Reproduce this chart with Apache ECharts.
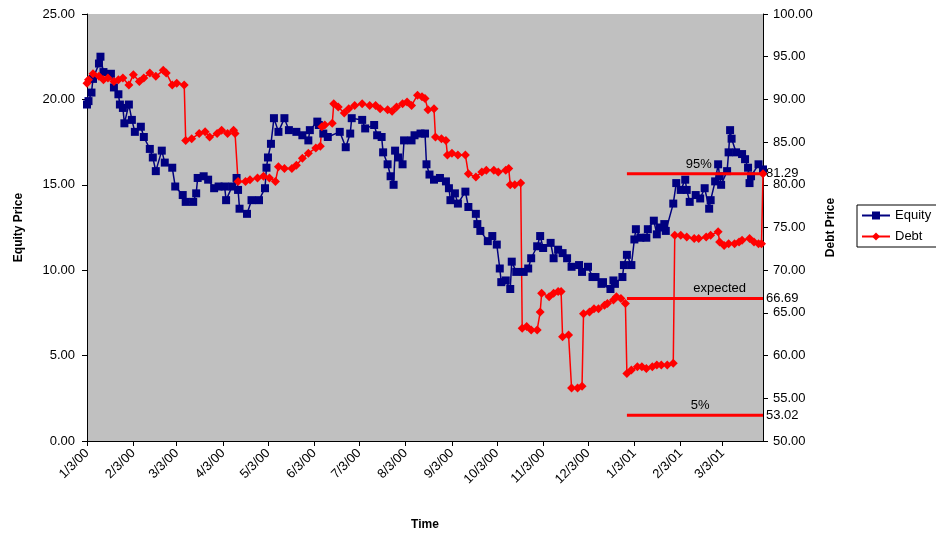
<!DOCTYPE html>
<html>
<head>
<meta charset="utf-8">
<title>Equity and Debt Price</title>
<script src="https://cdn.jsdelivr.net/npm/echarts@6/dist/echarts.min.js"></script>
<style>
    html, body { margin: 0; padding: 0; background: #fff; }
    #chart { width: 936px; height: 533px; }
</style>
</head>
<body>
<div id="chart"></div>
<script>
// day offsets counted from 1/3/00
var equityDays = [0, 1, 3, 4, 8, 9, 11, 16, 18, 21, 22, 24, 25, 28, 30, 32, 36, 38, 42, 44, 46, 50, 52, 57, 59, 64, 66, 71, 73, 74,
    78, 81, 85, 88, 92, 93, 97, 100, 101, 102, 107, 110, 115, 119, 120, 121, 123, 125, 128, 132, 135, 140, 144, 148, 149, 154, 155, 158, 161, 169,
    173, 176, 177, 184, 186, 192, 194, 197, 198, 201, 203, 205, 206, 208, 211, 212, 217, 219, 223, 226, 227, 229, 232, 236, 240, 242, 243, 246, 248, 253,
    255, 260, 261, 263, 268, 271, 274, 276, 277, 280, 283, 284, 287, 292, 295, 297, 301, 303, 305, 310, 312, 315, 318, 321, 324, 329, 331, 335, 338, 340,
    344, 345, 350, 352, 353, 358, 359, 361, 364, 366, 367, 370, 374, 375, 379, 381, 383, 386, 387, 392, 394, 397, 400, 401, 403, 407, 410, 413, 416, 417,
    420, 422, 423, 424, 428, 429, 430, 431, 434, 438, 440, 442, 443, 444, 449, 452];
var equityPrice = [19.7, 19.9, 20.4, 21.2, 22.1, 22.5, 21.6, 21.5, 20.7, 20.3, 19.7, 19.5, 18.6, 19.7, 18.8, 18.1, 18.4, 17.8, 17.1, 16.6, 15.8, 17.0, 16.3, 16.0, 14.9, 14.4, 14.0, 14.0, 14.5, 15.4,
    15.5, 15.3, 14.8, 14.9, 14.9, 14.1, 14.9, 15.4, 14.7, 13.6, 13.3, 14.1, 14.1, 14.8, 16.0, 16.6, 17.4, 18.9, 18.1, 18.9, 18.2, 18.1, 17.9, 17.6, 18.2, 18.7, 18.5, 18.0, 17.8, 18.1,
    17.2, 18.0, 18.9, 18.8, 18.3, 18.5, 17.9, 17.8, 16.9, 16.2, 15.5, 15.0, 17.0, 16.6, 16.2, 17.6, 17.6, 17.9, 18.0, 18.0, 16.2, 15.6, 15.3, 15.4, 15.2, 14.8, 14.1, 14.5, 13.9, 14.6,
    13.7, 13.3, 12.7, 12.3, 11.7, 12.0, 11.5, 10.1, 9.3, 9.4, 8.9, 10.5, 9.9, 9.9, 10.1, 10.7, 11.4, 12.0, 11.3, 11.6, 10.7, 11.2, 11.0, 10.7, 10.2, 10.3, 9.9, 10.2, 9.6, 9.6,
    9.2, 9.3, 8.9, 9.4, 9.2, 9.6, 10.3, 10.9, 10.3, 11.8, 12.4, 11.9, 11.9, 12.4, 12.9, 12.1, 12.5, 12.7, 12.3, 13.9, 15.1, 14.7, 15.3, 14.7, 14.0, 14.4, 14.2, 14.8, 13.6, 14.1,
    15.2, 16.2, 15.5, 15.0, 15.8, 16.9, 18.2, 17.7, 16.9, 16.8, 16.5, 16.0, 15.1, 15.5, 16.2, 15.9];

var debtDays = [0, 1, 4, 8, 11, 14, 18, 21, 24, 28, 31, 35, 38, 42, 46, 51, 53, 57, 60, 65, 66, 70, 75, 79, 82, 87, 90, 94, 98, 99,
    101, 106, 109, 114, 118, 122, 126, 128, 132, 137, 140, 144, 148, 153, 156, 157, 159, 164, 165, 168, 172, 175, 179, 184, 189, 193, 196, 201, 204, 207,
    211, 214, 217, 221, 224, 226, 228, 232, 233, 237, 240, 241, 244, 248, 253, 255, 260, 264, 267, 272, 275, 280, 282, 283, 286, 290, 291, 294, 297, 301,
    303, 304, 309, 312, 315, 317, 318, 322, 324, 328, 331, 332, 336, 339, 342, 346, 348, 352, 354, 357, 360, 361, 364, 368, 371, 374, 378, 381, 384, 388,
    392, 393, 397, 401, 406, 409, 414, 417, 422, 423, 426, 429, 433, 436, 438, 443, 446, 449, 451, 452];
var debtPrice = [91.9, 92.3, 93.0, 92.7, 92.3, 92.5, 92.1, 92.3, 92.5, 91.7, 92.9, 92.1, 92.5, 93.1, 92.7, 93.4, 93.1, 91.7, 91.9, 91.7, 85.2, 85.4, 86.0, 86.2, 85.6, 86.0, 86.4, 86.0, 86.4, 86.0,
    80.4, 80.4, 80.6, 80.8, 81.0, 80.8, 80.4, 82.1, 81.9, 81.9, 82.3, 83.1, 83.7, 84.3, 84.5, 86.8, 87.0, 87.2, 89.5, 89.1, 88.4, 88.9, 89.3, 89.5, 89.3, 89.3, 88.9, 88.8, 88.6, 89.1,
    89.5, 89.7, 89.3, 90.5, 90.3, 90.1, 88.8, 88.9, 85.6, 85.4, 85.2, 83.5, 83.7, 83.5, 83.5, 81.3, 80.9, 81.5, 81.7, 81.7, 81.5, 81.7, 81.9, 80.0, 80.0, 80.2, 63.2, 63.4, 63.0, 63.0,
    65.1, 67.3, 66.9, 67.3, 67.5, 67.5, 62.2, 62.4, 56.2, 56.2, 56.4, 64.9, 65.1, 65.5, 65.5, 65.9, 66.1, 66.5, 66.9, 66.7, 66.1, 57.9, 58.3, 58.7, 58.7, 58.5, 58.7, 58.9, 58.9, 58.9,
    59.1, 74.1, 74.1, 73.9, 73.7, 73.7, 73.9, 74.1, 74.5, 73.3, 72.9, 73.1, 73.1, 73.3, 73.5, 73.7, 73.3, 73.1, 73.1, 81.3];

// forecast levels drawn from the start of the horizon to the last day
var levelNames = ['95%', 'expected', '5%'];
var levelValues = [81.29, 66.69, 53.02];
var levelStart = 361;
var levelEnd = 452;
var levelTextDay = [409, 423, 410];

var startDate = Date.UTC(2000, 0, 3);
var dayCount = 453;

function dayLabel(i) {
    var d = new Date(startDate + i * 86400000);
    var yy = String(d.getUTCFullYear() % 100);
    if (yy.length < 2) yy = '0' + yy;
    return (d.getUTCMonth() + 1) + '/' + d.getUTCDate() + '/' + yy;
}

var categories = [];
for (var i = 0; i < dayCount; i++) {
    categories.push(dayLabel(i));
}

function pairs(days, vals) {
    var out = [];
    for (var k = 0; k < days.length; k++) {
        out.push([days[k], vals[k]]);
    }
    return out;
}

function isTickDay(index, value) {
    return value.split('/')[1] === '3';
}

var font = 'Liberation Sans, Arial, sans-serif';

var levelSeries = levelNames.map(function(name, n) {
    var v = levelValues[n];
    return {
        name: name,
        type: 'line',
        yAxisIndex: 1,
        symbol: 'circle',
        symbolSize: 0.1,
        showAllSymbol: true,
        silent: true,
        lineStyle: { color: '#ff0000', width: 3 },
        itemStyle: { color: '#ff0000' },
        z: 4,
        data: [
            [levelStart, v],
            {
                value: [levelTextDay[n], v],
                label: {
                    show: true, position: 'top', distance: 3, formatter: name,
                    color: '#000', fontSize: 13, fontFamily: font
                }
            },
            {
                value: [levelEnd, v],
                label: {
                    show: true, position: 'right', distance: 3, formatter: v.toFixed(2),
                    color: '#000', fontSize: 13, fontFamily: font
                }
            }
        ]
    };
});

var chart = echarts.init(document.getElementById('chart'), null, { renderer: 'canvas' });

var option = {
    animation: false,
    backgroundColor: '#fff',
    textStyle: { fontFamily: font, color: '#000' },
    grid: {
        left: 87, right: 173, top: 14, bottom: 92,
        outerBoundsMode: 'none',
        show: true, backgroundColor: '#c0c0c0', borderWidth: 0
    },
    legend: {
        data: ['Equity', 'Debt'],
        orient: 'vertical',
        left: 857, top: 205,
        itemWidth: 28, itemHeight: 10, itemGap: 8,
        padding: [4, 6, 4, 4],
        borderColor: '#000', borderWidth: 1,
        backgroundColor: '#fff',
        textStyle: { fontSize: 13, color: '#000', fontFamily: font }
    },
    xAxis: {
        type: 'category',
        data: categories,
        boundaryGap: false,
        name: 'Time',
        nameLocation: 'middle',
        nameGap: 78,
        nameTextStyle: { fontWeight: 'bold', fontSize: 12, color: '#000' },
        axisLine: { lineStyle: { color: '#000', width: 1 } },
        axisTick: { interval: isTickDay, length: 5, lineStyle: { color: '#000' } },
        axisLabel: {
            interval: isTickDay, rotate: 45, fontSize: 13, color: '#000', margin: 10
        },
        splitLine: { show: false }
    },
    yAxis: [
        {
            type: 'value',
            min: 0, max: 25, interval: 5,
            name: 'Equity Price',
            nameLocation: 'middle',
            nameGap: 62,
            nameTextStyle: { fontWeight: 'bold', fontSize: 12, color: '#000' },
            axisLine: { show: true, lineStyle: { color: '#000', width: 1 } },
            axisTick: { show: true, length: 5, lineStyle: { color: '#000' } },
            axisLabel: {
                fontSize: 13, color: '#000', margin: 12,
                formatter: function(v) { return v.toFixed(2); }
            },
            splitLine: { show: false }
        },
        {
            type: 'value',
            min: 50, max: 100, interval: 5,
            name: 'Debt Price',
            nameLocation: 'middle',
            nameGap: 62,
            nameTextStyle: { fontWeight: 'bold', fontSize: 12, color: '#000' },
            axisLine: { show: true, lineStyle: { color: '#000', width: 1 } },
            axisTick: { show: true, length: 5, lineStyle: { color: '#000' } },
            axisLabel: {
                fontSize: 13, color: '#000', margin: 10,
                formatter: function(v) { return v.toFixed(2); }
            },
            splitLine: { show: false }
        }
    ],
    series: [
        {
            name: 'Equity',
            type: 'line',
            yAxisIndex: 0,
            symbol: 'rect',
            symbolSize: 8,
            showAllSymbol: true,
            color: '#000080',
            lineStyle: { color: '#000080', width: 1.5 },
            itemStyle: { color: '#000080' },
            z: 3,
            data: pairs(equityDays, equityPrice)
        },
        {
            name: 'Debt',
            type: 'line',
            yAxisIndex: 1,
            symbol: 'diamond',
            symbolSize: 9,
            showAllSymbol: true,
            color: '#ff0000',
            lineStyle: { color: '#ff0000', width: 1.5 },
            itemStyle: { color: '#ff0000' },
            z: 3,
            data: pairs(debtDays, debtPrice)
        }
    ].concat(levelSeries)
};

chart.setOption(option);
</script>
</body>
</html>
